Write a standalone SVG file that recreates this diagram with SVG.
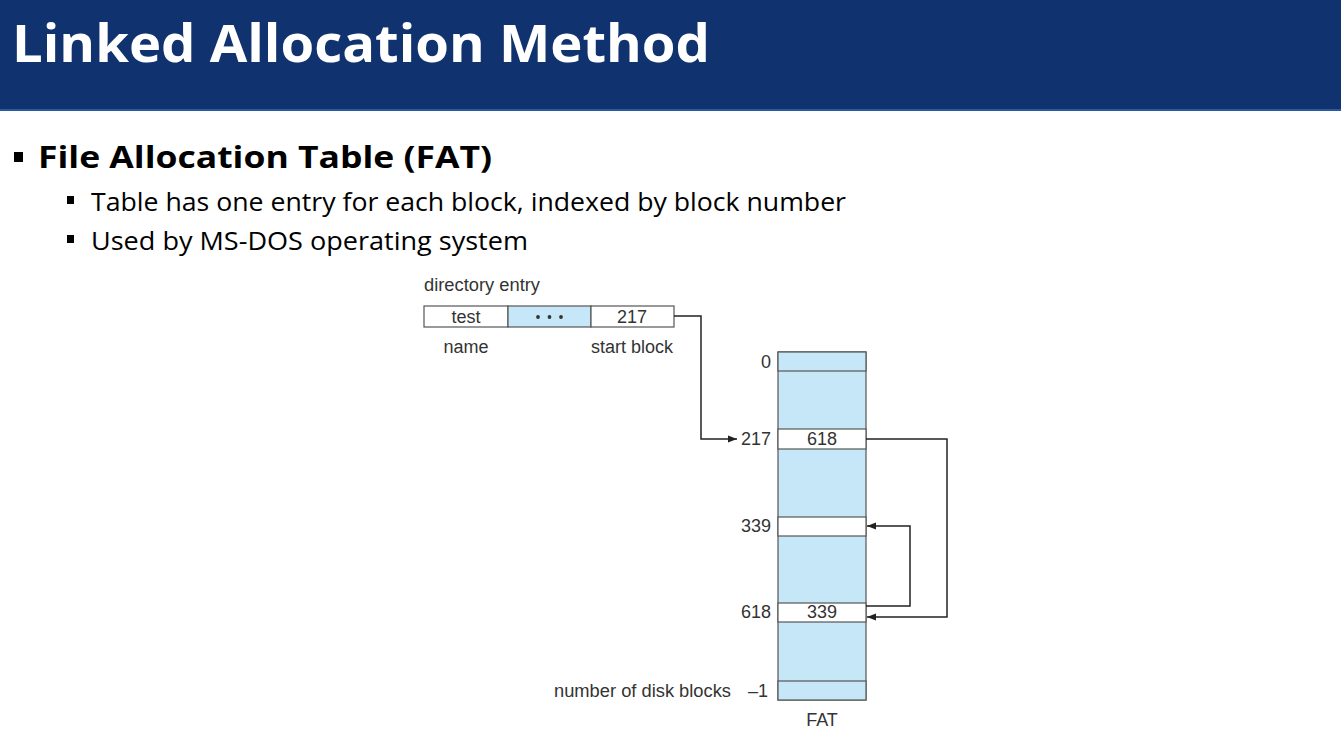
<svg xmlns="http://www.w3.org/2000/svg" width="1341" height="731" viewBox="0 0 1341 731">
<defs>
<style>
.title{font-family:"Open Sans","Liberation Sans",sans-serif;font-weight:bold;fill:#fff}
.b1{font-family:"Open Sans","Liberation Sans",sans-serif;font-weight:bold;fill:#000}
.b2{font-family:"Open Sans","Liberation Sans",sans-serif;fill:#000}
.lbl{font-family:"Liberation Sans",Arial,sans-serif;font-size:18px;fill:#333}
.cell{fill:#fff;stroke:#555;stroke-width:1.2}
.blue{fill:#c6e7f7;stroke:#555;stroke-width:1.2}
.conn{fill:none;stroke:#222;stroke-width:1.5}
</style>
<marker id="ah" markerWidth="10" markerHeight="8" refX="9" refY="4" orient="auto" markerUnits="userSpaceOnUse">
<path d="M0,0.5 L9,4 L0,7.5 Z" fill="#222"/>
</marker>
</defs>
<rect width="1341" height="731" fill="#fff"/>
<rect x="0" y="0" width="1341" height="110" fill="#10326e"/>
<rect x="0" y="109" width="1341" height="2" fill="#2a5aa0"/>
<text class="title" x="12" y="62" font-size="52" textLength="698" lengthAdjust="spacingAndGlyphs">Linked Allocation Method</text>

<rect x="14" y="152" width="9" height="10" fill="#000"/>
<text class="b1" x="38" y="168" font-size="30" textLength="454" lengthAdjust="spacingAndGlyphs">File Allocation Table (FAT)</text>
<rect x="67" y="196" width="7" height="8" fill="#000"/>
<text class="b2" x="91" y="211" font-size="26" textLength="755" lengthAdjust="spacingAndGlyphs">Table has one entry for each block, indexed by block number</text>
<rect x="67" y="235" width="7" height="8" fill="#000"/>
<text class="b2" x="91" y="250" font-size="26" textLength="437" lengthAdjust="spacingAndGlyphs">Used by MS-DOS operating system</text>

<g id="directory-entry">
<text class="lbl" x="424" y="291" textLength="116" lengthAdjust="spacingAndGlyphs">directory entry</text>
<rect class="cell" x="424" y="306" width="84" height="21"/>
<rect class="blue" x="508" y="306" width="83" height="21"/>
<rect class="cell" x="591" y="306" width="83" height="21"/>
<text class="lbl" x="466" y="323" text-anchor="middle">test</text>
<circle cx="538" cy="317" r="1.9" fill="#333"/>
<circle cx="549.5" cy="317" r="1.9" fill="#333"/>
<circle cx="561" cy="317" r="1.9" fill="#333"/>
<text class="lbl" x="632" y="323" text-anchor="middle">217</text>
<text class="lbl" x="466" y="353" text-anchor="middle">name</text>
<text class="lbl" x="632" y="353" text-anchor="middle">start block</text>
</g>

<g id="fat">
<rect class="blue" x="778" y="352" width="88" height="348"/>
<rect class="blue" x="778" y="352" width="88" height="19"/>
<rect class="cell" x="778" y="429" width="88" height="20"/>
<rect class="cell" x="778" y="517" width="88" height="19"/>
<rect class="cell" x="778" y="603" width="88" height="19"/>
<rect class="blue" x="778" y="681" width="88" height="19"/>
<text class="lbl" x="822" y="445" text-anchor="middle">618</text>
<text class="lbl" x="822" y="618" text-anchor="middle">339</text>
<text class="lbl" x="771" y="368" text-anchor="end">0</text>
<text class="lbl" x="771" y="445" text-anchor="end">217</text>
<text class="lbl" x="771" y="532" text-anchor="end">339</text>
<text class="lbl" x="771" y="618" text-anchor="end">618</text>
<text class="lbl" x="768" y="697" text-anchor="end">–1</text>
<text class="lbl" x="731" y="697" text-anchor="end" textLength="177" lengthAdjust="spacingAndGlyphs">number of disk blocks</text>
<text class="lbl" x="822" y="726" text-anchor="middle">FAT</text>
</g>

<g id="connectors">
<path class="conn" d="M674,316 H701 V439 H737" marker-end="url(#ah)"/>
<path class="conn" d="M866,439 H947 V617 H867" marker-end="url(#ah)"/>
<path class="conn" d="M866,606 H910 V526 H867" marker-end="url(#ah)"/>
</g>
</svg>
